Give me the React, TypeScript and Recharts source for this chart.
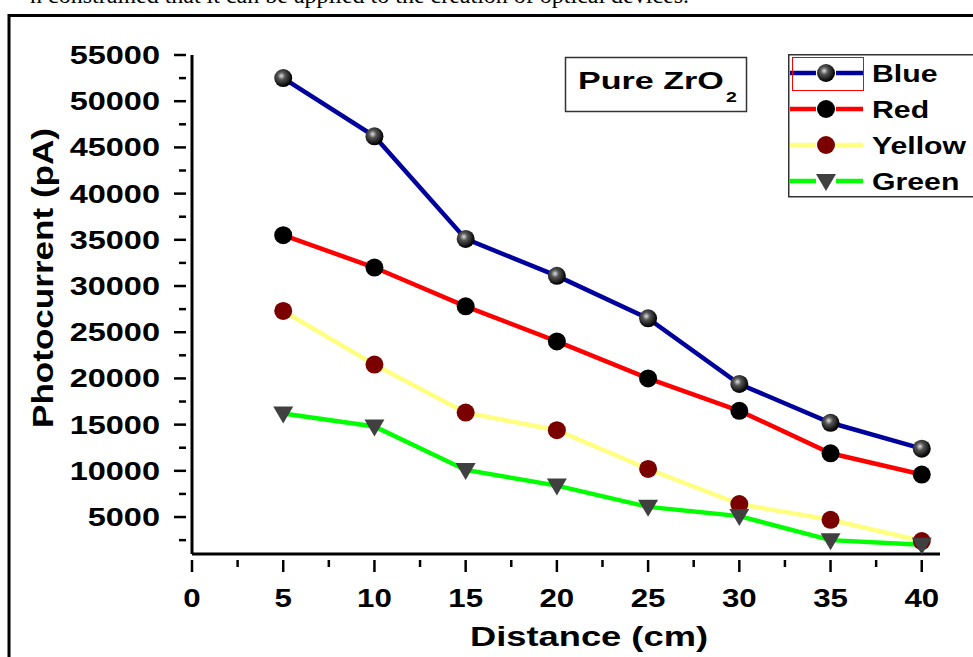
import { LineChart, Line, XAxis, YAxis, Legend } from 'recharts'

// Photocurrent vs distance, pure ZrO2
const distances = [5, 10, 15, 20, 25, 30, 35, 40]
const blue = [52500, 46200, 35100, 31100, 26500, 19400, 15200, 12400]
const red = [35500, 32000, 27800, 24000, 20000, 16500, 11900, 9600]
const yellow = [27300, 21500, 16300, 14400, 10200, 6400, 4700, 2400]
const green = [16200, 14800, 10100, 8400, 6100, 5100, 2500, 2000]

const xTicks = [0, 2.5, 5, 7.5, 10, 12.5, 15, 17.5, 20, 22.5, 25, 27.5, 30, 32.5, 35, 37.5, 40]
const yTicks = [
  2500, 5000, 7500, 10000, 12500, 15000, 17500, 20000, 22500, 25000, 27500,
  30000, 32500, 35000, 37500, 40000, 42500, 45000, 47500, 50000, 52500, 55000,
]

const series = [
  { name: 'Blue', stroke: '#00009c', marker: 'sphere' },
  { name: 'Red', stroke: '#ff0000', marker: 'black' },
  { name: 'Yellow', stroke: '#ffff80', marker: 'darkred' },
  { name: 'Green', stroke: '#00ff00', marker: 'triangle' },
]

const data = distances.map((d, i) => ({
  distance: d,
  Blue: blue[i],
  Red: red[i],
  Yellow: yellow[i],
  Green: green[i],
}))

const FONT = '"Liberation Sans", Arial, sans-serif'

function Marker({ cx, cy, kind }: { cx: number; cy: number; kind: string }) {
  if (kind === 'triangle') {
    return (
      <polygon
        points={`${cx - 10},${cy - 7} ${cx + 10},${cy - 7} ${cx},${cy + 10}`}
        fill="#404040"
      />
    )
  }
  const fill = kind === 'sphere' ? 'url(#sphereGrad)' : kind === 'darkred' ? '#7a0000' : '#000'
  return <circle cx={cx} cy={cy} r={9} fill={fill} />
}

const XTick = (p: any) => {
  const v = p.payload.value
  const major = v % 5 === 0
  return (
    <g>
      <line x1={p.x} x2={p.x} y1={p.y} y2={p.y + (major ? 12 : 7)} stroke="#000" strokeWidth={2.5} />
      {major && (
        <text
          transform={`translate(${p.x},${p.y + 47}) scale(1.25,1)`}
          textAnchor="middle"
          fontFamily={FONT}
          fontWeight="bold"
          fontSize={25}
          fill="#000"
        >
          {v}
        </text>
      )}
    </g>
  )
}

const YTick = (p: any) => {
  const v = p.payload.value
  const major = v % 5000 === 0
  return (
    <g>
      <line x1={p.x} x2={p.x - (major ? 12 : 7)} y1={p.y} y2={p.y} stroke="#000" strokeWidth={2.5} />
      {major && (
        <text
          transform={`translate(${p.x - 26},${p.y + 9}) scale(1.3,1)`}
          textAnchor="end"
          fontFamily={FONT}
          fontWeight="bold"
          fontSize={25}
          fill="#000"
        >
          {v}
        </text>
      )}
    </g>
  )
}

const LegendBox = () => (
  <svg width={190} height={145} style={{ display: 'block' }}>
    <rect x={0.75} y={0.75} width={200} height={142} fill="#fff" stroke="#333" strokeWidth={1.5} />
    {series.map((s, i) => {
      const cy = 19 + i * 36
      return (
        <g key={s.name}>
          <line x1={2} x2={28} y1={cy} y2={cy} stroke={s.stroke} strokeWidth={4.5} />
          <line x1={48} x2={75} y1={cy} y2={cy} stroke={s.stroke} strokeWidth={4.5} />
          <Marker cx={38} cy={cy} kind={s.marker} />
          <text
            transform={`translate(84,${cy + 9}) scale(1.26,1)`}
            fontFamily={FONT}
            fontWeight="bold"
            fontSize={24}
            fill="#000"
          >
            {s.name}
          </text>
        </g>
      )
    })}
    <rect x={4.5} y={3.5} width={71} height={33} fill="none" stroke="#ff0000" strokeWidth={1} />
  </svg>
)

export default function App() {
  return (
    <div
      style={{
        position: 'absolute',
        left: 0,
        top: 0,
        width: 973,
        height: 657,
        overflow: 'hidden',
        background: '#fff',
      }}
    >
      <svg width={0} height={0} style={{ position: 'absolute' }}>
        <defs>
          <radialGradient id="sphereGrad" cx="40%" cy="38%" r="60%">
            <stop offset="0%" stopColor="#e0e0e0" />
            <stop offset="35%" stopColor="#555" />
            <stop offset="100%" stopColor="#000" />
          </radialGradient>
        </defs>
      </svg>

      <svg width={973} height={657} style={{ position: 'absolute', left: 0, top: 0 }}>
        <text x={30} y={3} fontFamily='"Liberation Serif", serif' fontSize={24} fill="#000">
          n constrained that it can be applied to the creation of optical devices.
        </text>
        <rect x={9} y={15.5} width={1000} height={700} fill="none" stroke="#000" strokeWidth={3} />
      </svg>

      <div style={{ position: 'absolute', left: 0, top: 0 }}>
        <LineChart width={973} height={657} data={data} margin={{ top: 55, right: 33, bottom: 3, left: 92 }}>
          <XAxis
            dataKey="distance"
            type="number"
            domain={[0, 41]}
            ticks={xTicks}
            interval={0}
            tick={<XTick />}
            tickLine={false}
            tickMargin={0}
            height={100}
            axisLine={{ stroke: '#000', strokeWidth: 3 }}
          />
          <YAxis
            type="number"
            domain={[1000, 55000]}
            ticks={yTicks}
            interval={0}
            tick={<YTick />}
            tickLine={false}
            tickMargin={0}
            width={100}
            axisLine={{ stroke: '#000', strokeWidth: 3 }}
          />
          <Legend
            layout="vertical"
            align="center"
            verticalAlign="middle"
            content={() => <LegendBox />}
            wrapperStyle={{ position: 'absolute', left: 788, top: 54, width: 190, height: 145 }}
          />
          {series.map((s) => (
            <Line
              key={s.name}
              type="linear"
              dataKey={s.name}
              stroke={s.stroke}
              strokeWidth={4.5}
              isAnimationActive={false}
              activeDot={false}
              dot={(p: any) => <Marker key={`${s.name}-${p.index}`} cx={p.cx} cy={p.cy} kind={s.marker} />}
            />
          ))}
        </LineChart>
      </div>

      <svg width={973} height={657} style={{ position: 'absolute', left: 0, top: 0, pointerEvents: 'none' }}>
        <rect x={565.5} y={57.5} width={181} height={54} fill="#fff" stroke="#333" strokeWidth={1.5} />
        <text
          transform="translate(578,89) scale(1.42,1)"
          fontFamily={FONT}
          fontWeight="bold"
          fontSize={24}
          fill="#000"
        >
          Pure ZrO
        </text>
        <text
          transform="translate(726,102) scale(1.3,1)"
          fontFamily={FONT}
          fontWeight="bold"
          fontSize={15}
          fill="#000"
        >
          2
        </text>
        <text
          transform="translate(53,278) rotate(-90)"
          textAnchor="middle"
          fontFamily={FONT}
          fontWeight="bold"
          fontSize={30}
          textLength={300}
          lengthAdjust="spacingAndGlyphs"
          fill="#000"
        >
          Photocurrent (pA)
        </text>
        <text
          x={589}
          y={646}
          textAnchor="middle"
          fontFamily={FONT}
          fontWeight="bold"
          fontSize={27}
          textLength={238}
          lengthAdjust="spacingAndGlyphs"
          fill="#000"
        >
          Distance (cm)
        </text>
      </svg>
    </div>
  )
}
